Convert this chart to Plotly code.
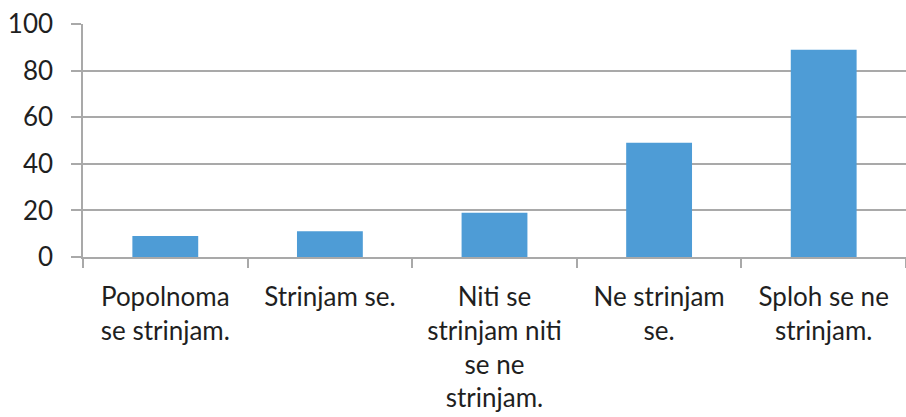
import plotly.graph_objects as go

# Survey answers (Likert scale) and number of responses
categories = [
    "Popolnoma<br>se strinjam.",
    "Strinjam se.",
    "Niti se<br>strinjam niti<br>se ne<br>strinjam.",
    "Ne strinjam<br>se.",
    "Sploh se ne<br>strinjam.",
]
responses = [9, 11, 19, 49, 89]
y_ticks = [0, 20, 40, 60, 80, 100]

BAR_COLOR = "#4e9cd6"
GRID_COLOR = "#a9a9a9"
TEXT_COLOR = "#1f1f1f"
FONT = "Lato, 'Open Sans', sans-serif"

fig = go.Figure(
    go.Bar(
        x=categories,
        y=responses,
        marker=dict(color=BAR_COLOR, line=dict(width=0)),
        hoverinfo="x+y",
    )
)

fig.update_layout(
    width=906,
    height=417,
    margin=dict(l=83, r=0, t=24, b=160),
    paper_bgcolor="white",
    plot_bgcolor="white",
    bargap=0.6,
    showlegend=False,
    font=dict(family=FONT, size=26, color=TEXT_COLOR),
)

fig.update_xaxes(
    type="category",
    showline=True,
    linecolor=GRID_COLOR,
    linewidth=1.5,
    ticks="outside",
    tickson="boundaries",
    ticklen=9,
    tickwidth=1.5,
    tickcolor=GRID_COLOR,
    showgrid=False,
    ticklabelstandoff=16,
    tickfont=dict(family=FONT, size=26, color=TEXT_COLOR),
)

fig.update_yaxes(
    range=[0, 100],
    tickvals=y_ticks,
    showline=True,
    linecolor=GRID_COLOR,
    linewidth=1.5,
    ticks="outside",
    ticklen=10,
    tickwidth=1.5,
    tickcolor=GRID_COLOR,
    showgrid=True,
    gridcolor=GRID_COLOR,
    gridwidth=1.5,
    zeroline=False,
    ticklabelstandoff=13,
    tickfont=dict(family=FONT, size=26, color=TEXT_COLOR),
)

fig.write_html("out.html")
